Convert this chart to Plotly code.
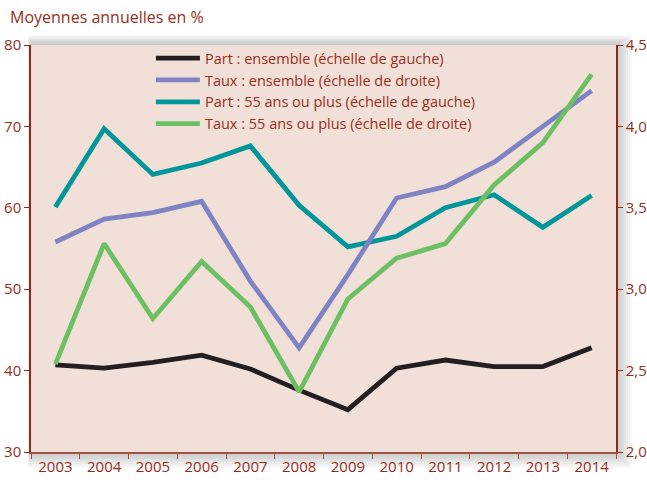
import plotly.graph_objects as go

years = ["2003", "2004", "2005", "2006", "2007", "2008", "2009", "2010", "2011", "2012", "2013", "2014"]
part_ensemble = [40.7, 40.3, 41.0, 41.9, 40.2, 37.6, 35.2, 40.3, 41.3, 40.5, 40.5, 42.8]
taux_ensemble = [3.29, 3.43, 3.47, 3.54, 3.05, 2.64, 3.09, 3.56, 3.63, 3.78, 4.00, 4.22]
part_55 = [60.1, 69.7, 64.1, 65.5, 67.6, 60.3, 55.2, 56.5, 60.0, 61.6, 57.6, 61.5]
taux_55 = [2.54, 3.28, 2.82, 3.17, 2.89, 2.37, 2.94, 3.19, 3.28, 3.64, 3.90, 4.32]

left_ticks = [30, 40, 50, 60, 70, 80]
right_ticks = [2.0, 2.5, 3.0, 3.5, 4.0, 4.5]
right_labels = ["2,0", "2,5", "3,0", "3,5", "4,0", "4,5"]

names = [
    "Part : ensemble (échelle de gauche)",
    "Taux : ensemble (échelle de droite)",
    "Part : 55 ans ou plus (échelle de gauche)",
    "Taux : 55 ans ou plus (échelle de droite)",
]
colors = ["#231F20", "#7F83C3", "#00969A", "#6CC063"]
txt = "#9A2D1A"
font = "Open Sans"

fig = go.Figure()
fig.add_trace(go.Scatter(x=years, y=part_ensemble, name=names[0], mode="lines",
                         line=dict(color=colors[0], width=4.8), yaxis="y"))
fig.add_trace(go.Scatter(x=years, y=taux_ensemble, name=names[1], mode="lines",
                         line=dict(color=colors[1], width=4.8), yaxis="y2"))
fig.add_trace(go.Scatter(x=years, y=part_55, name=names[2], mode="lines",
                         line=dict(color=colors[2], width=4.8), yaxis="y"))
fig.add_trace(go.Scatter(x=years, y=taux_55, name=names[3], mode="lines",
                         line=dict(color=colors[3], width=4.8), yaxis="y2"))

W, H = 585, 407
# soft shadow around plot area, then the plot background on top of it
shapes = []
for i in range(8):
    d = (8 - i) * 2
    shapes.append(dict(type="rect", xref="paper", yref="paper", layer="below",
                       x0=-(d * 0.2) / W, x1=1 + d / W,
                       y0=-d / H, y1=1 + (d * 0.6) / H,
                       fillcolor="rgba(20,20,40,0.03)", line=dict(width=0)))
shapes.append(dict(type="rect", xref="paper", yref="paper", layer="below",
                   x0=0, x1=1, y0=0, y1=1, fillcolor="#F0E0D8", line=dict(width=0)))

fig.update_layout(
    width=647, height=484,
    margin=dict(l=31, r=31, t=45, b=32),
    paper_bgcolor="white",
    plot_bgcolor="rgba(0,0,0,0)",
    font=dict(family=font, color=txt, size=15),
    showlegend=True,
    legend=dict(x=0.205, y=1.007, xanchor="left", yanchor="top",
                bgcolor="rgba(0,0,0,0)", font=dict(size=14.5, color=txt),
                itemwidth=44, tracegroupgap=0),
    shapes=shapes,
    xaxis=dict(type="category", showgrid=False, zeroline=False, automargin=False,
               showline=True, linecolor="#A05040", linewidth=1.5,
               ticks="outside", tickson="boundaries", ticklen=5,
               tickcolor="#A05040", tickfont=dict(size=15, color=txt),
               range=[-0.5, 11.5]),
    yaxis=dict(range=[30, 80], tickvals=left_ticks, showgrid=False, zeroline=False,
               automargin=False,
               showline=True, linecolor="#8B2A16", linewidth=1.5,
               ticks="outside", ticklen=5, tickcolor="#8B2A16",
               tickfont=dict(size=15, color=txt)),
    yaxis2=dict(range=[2.0, 4.5], tickvals=right_ticks, ticktext=right_labels,
                overlaying="y", side="right", showgrid=False, zeroline=False,
                automargin=False,
                showline=True, linecolor="#8B2A16", linewidth=1.5,
                ticks="outside", ticklen=5, tickcolor="#8B2A16",
                tickfont=dict(size=15, color=txt)),
    annotations=[dict(text="Moyennes annuelles en %", xref="paper", yref="paper",
                      x=(8 - 31) / W, y=1 + (45 - 17) / H,
                      xanchor="left", yanchor="middle", showarrow=False,
                      font=dict(size=16, color=txt, family=font))],
)

fig.write_html("out.html", config={"displayModeBar": False},
               post_script="document.body.style.margin='0';")
